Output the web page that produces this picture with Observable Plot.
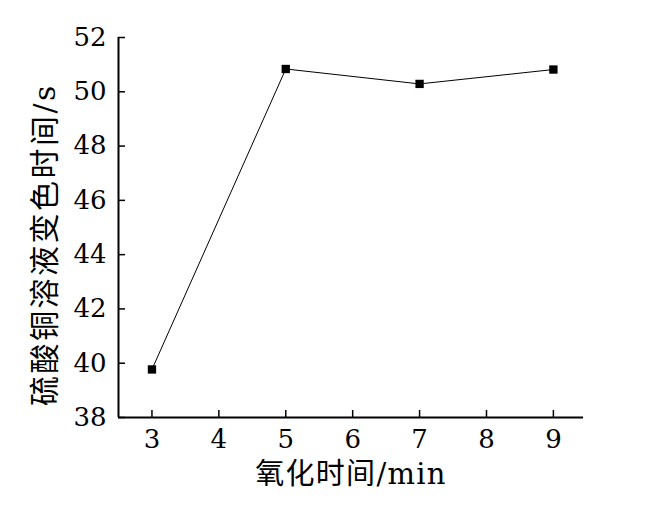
<!DOCTYPE html>
<html>
<head>
<meta charset="utf-8">
<script src="https://cdn.jsdelivr.net/npm/d3@7"></script>
<script src="https://cdn.jsdelivr.net/npm/@observablehq/plot@0.6"></script>
<style>
  html, body { margin: 0; padding: 0; background: #fff; }
  #chart svg text { font-family: "DejaVu Serif", "Noto Sans CJK SC", serif; }
</style>
</head>
<body>
<div id="chart"></div>
<script>
const oxidationTime = [3, 5, 7, 9];
const colorChangeTime = [39.77, 50.84, 50.29, 50.82];
const xTicks = [3, 4, 5, 6, 7, 8, 9];
const yTicks = [38, 40, 42, 44, 46, 48, 50, 52];
const xLabel = "氧化时间/min";
const yLabel = "硫酸铜溶液变色时间/s";

const data = oxidationTime.map((t, i) => ({t, v: colorChangeTime[i]}));
const xDomain = [2.5, 9.45];
const yDomain = [38, 52];
const serif = "'DejaVu Serif', 'Noto Sans CJK SC', serif";

const chart = Plot.plot({
  width: 650,
  height: 510,
  marginLeft: 118,
  marginRight: 67,
  marginTop: 37,
  marginBottom: 93,
  style: {background: "#fff", fontFamily: serif, fontSize: "26px", color: "#000"},
  x: {domain: xDomain},
  y: {domain: yDomain},
  marks: [
    Plot.axisX({ticks: xTicks, tickSize: 0, tickPadding: 12, tickFormat: d => String(d), fontSize: 26, fontFamily: serif, label: null}),
    Plot.axisX({ticks: xTicks, tickSize: -7, tickFormat: () => "", label: null, strokeWidth: 1.5}),
    Plot.axisY({ticks: yTicks, tickSize: 0, tickPadding: 12, tickFormat: d => String(d), fontSize: 26, fontFamily: serif, label: null}),
    Plot.axisY({ticks: yTicks, tickSize: -7, tickFormat: () => "", label: null, strokeWidth: 1.5}),
    Plot.ruleY([yDomain[0]], {stroke: "#000", strokeWidth: 2}),
    Plot.ruleX([xDomain[0]], {stroke: "#000", strokeWidth: 2}),
    Plot.line(data, {x: "t", y: "v", stroke: "#000", strokeWidth: 1}),
    Plot.dot(data, {x: "t", y: "v", symbol: "square", r: 4.7, fill: "#000", stroke: "none"}),
    Plot.text([xLabel], {frameAnchor: "bottom", dy: 57, fontSize: 29, fill: "#000", lineAnchor: "middle", textAnchor: "middle", fontFamily: serif, className: "xlab"}),
    Plot.text([yLabel], {frameAnchor: "left", dx: -73, dy: 17, rotate: -90, fontSize: 30, fill: "#000", lineAnchor: "middle", textAnchor: "middle", fontFamily: serif, className: "ylab"})
  ]
});
d3.select(chart).selectAll(".xlab text").style("letter-spacing", "1.3px");
d3.select(chart).selectAll(".ylab text").style("letter-spacing", "2.5px");
document.getElementById("chart").appendChild(chart);
</script>
</body>
</html>
